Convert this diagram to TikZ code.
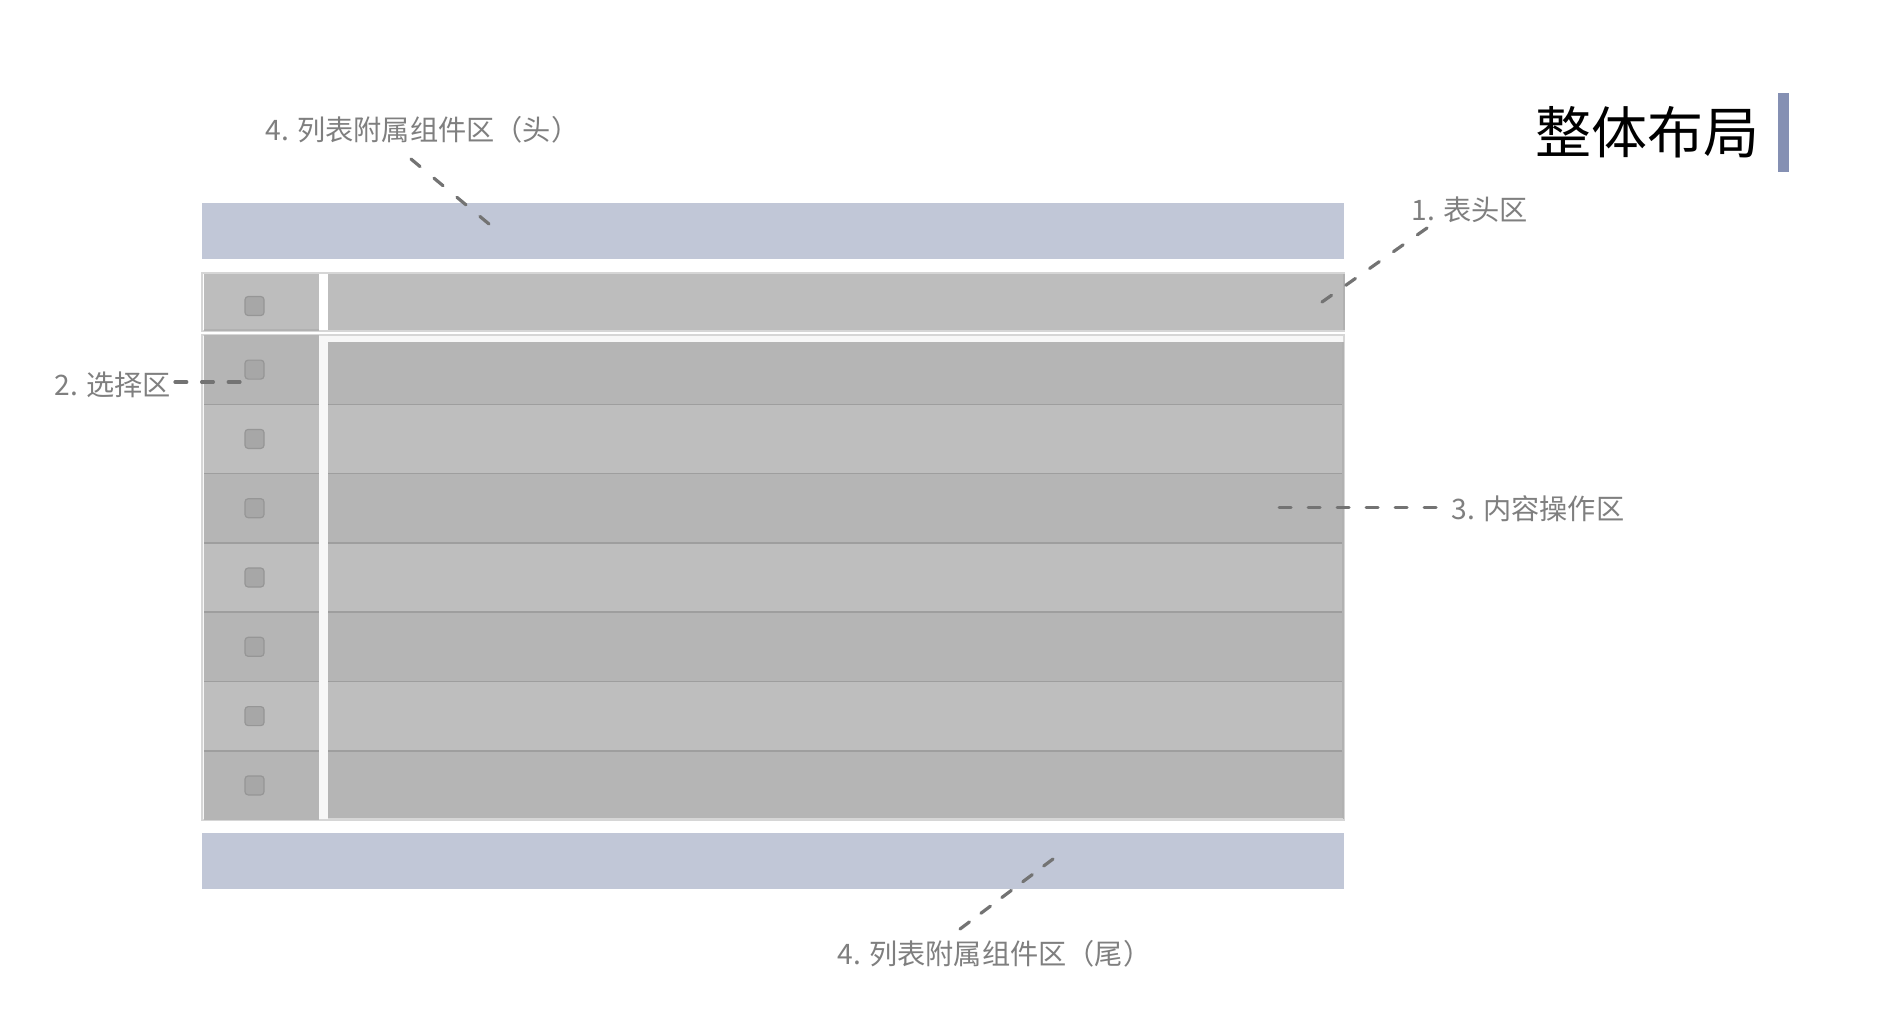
\documentclass[tikz,border=0pt]{standalone}
\usepackage{fontspec}
\newfontfamily\cjk{Noto Sans CJK SC}
\definecolor{barblue}{HTML}{C1C7D7}
\definecolor{titlebar}{HTML}{8590B3}
\definecolor{hdrfill}{HTML}{BDBDBD}
\definecolor{rowdark}{HTML}{B5B5B5}
\definecolor{rowlight}{HTML}{BEBEBE}
\definecolor{rowline}{HTML}{9E9E9E}
\definecolor{frameline}{HTML}{D6D6D6}
\definecolor{gapfill}{HTML}{F7F7F7}
\definecolor{cbfill}{HTML}{A7A7A7}
\definecolor{cbline}{HTML}{969696}
\definecolor{lblgray}{HTML}{7F7F7F}
\definecolor{dashgray}{HTML}{737373}
\begin{document}
\begin{tikzpicture}[x=0.5pt,y=-0.5pt,
  bar/.style={fill=barblue,draw=none},
  lbl/.style={inner sep=0pt,text=lblgray,font=\cjk\fontsize{14.1pt}{16pt}\selectfont},
  leader/.style={draw=dashgray,line width=1.6pt,line cap=round,dash pattern=on 5.9pt off #1},
  cbox/.style={draw=cbline,fill=cbfill,line width=0.6pt,rounded corners=1.6pt}]
\useasboundingbox (0,0) rectangle (1886,1014);
\fill[white] (0,0) rectangle (1886,1014);

% title
\node[inner sep=0pt,anchor=base east,font=\cjk\fontsize{28pt}{30pt}\selectfont] (title) at (1760,153) {整体布局};
\fill[titlebar] (1778,93) rectangle (1789,172);

% top and bottom bars
\fill[bar] (202,203) rectangle (1344,259);
\fill[bar] (202,833) rectangle (1344,889);

% header row
\filldraw[draw=frameline,fill=white,line width=0.8pt] (202,273) rectangle (1344,331);
\fill[hdrfill] (204,274) rectangle (319,330);
\fill[hdrfill] (328,274) rectangle (1344,330);
\draw[rowline!80,line width=0.8pt] (204,330) -- (319,330);
\draw[rowline!80,line width=0.8pt] (1344,274) -- (1344,330);

% body
\filldraw[draw=frameline,fill=gapfill,line width=0.8pt] (202,335) rectangle (1344,820);
\foreach \k in {1,...,7}{
  \pgfmathsetmacro{\ya}{335+69.3*(\k-1)}
  \pgfmathsetmacro{\yb}{335+69.3*\k}
  \pgfmathsetmacro{\yc}{max(\ya,342)}
  \ifodd\k
    \fill[rowdark] (204,\ya) rectangle (319,\yb);
    \fill[rowdark] (328,\yc) rectangle (1343,\yb);
  \else
    \fill[rowlight] (204,\ya) rectangle (319,\yb);
    \fill[rowlight] (328,\yc) rectangle (1343,\yb);
  \fi
}
\foreach \k in {1,...,6}{
  \pgfmathsetmacro{\yl}{335+69.3*\k}
  \draw[rowline,line width=0.8pt] (204,\yl) -- (319,\yl);
  \draw[rowline,line width=0.8pt] (328,\yl) -- (1343,\yl);
}
\draw[rowline!80,line width=0.8pt] (1343,342) -- (1343,819);
\draw[frameline,line width=0.8pt] (328,819) -- (1343,819);

% checkboxes
\node[cbox,minimum size=9.5pt,inner sep=0pt] (cb0) at (254.5,306) {};
\foreach \k in {1,...,7}{
  \pgfmathsetmacro{\yy}{369.6+69.3*(\k-1)}
  \node[cbox,minimum size=9.5pt,inner sep=0pt] (cb\k) at (254.5,\yy) {};
}

% labels
\node[lbl,anchor=base west] (lhead) at (265,140) {4. 列表附属组件区（头）};
\node[lbl,anchor=base west] (lone) at (1411,220) {1. 表头区};
\node[lbl,anchor=base west] (ltwo) at (54,395) {2. 选择区};
\node[lbl,anchor=base west] (lthree) at (1451,519) {3. 内容操作区};
\node[lbl,anchor=base west] (ltail) at (837,964) {4. 列表附属组件区（尾）};

% leader end points
\coordinate (hA) at (411,159);
\coordinate (hB) at (489,224);
\coordinate (oA) at (1427,228);
\coordinate (oB) at (1322,302);
\coordinate (tA) at (175,382);
\coordinate (tB) at (240,382);
\coordinate (rA) at (1436,507.6);
\coordinate (rB) at (1279,507.6);
\coordinate (fA) at (960,929);
\coordinate (fB) at (1053,859);

\draw[leader=9.05pt] (hA) -- (hB);
\draw[leader=8.7pt] (oA) -- (oB);
\draw[leader=7.4pt] (tA) -- (tB);
\draw[leader=8.6pt] (rA) -- (rB);
\draw[leader=7.2pt] (fA) -- (fB);
\end{tikzpicture}
\end{document}
